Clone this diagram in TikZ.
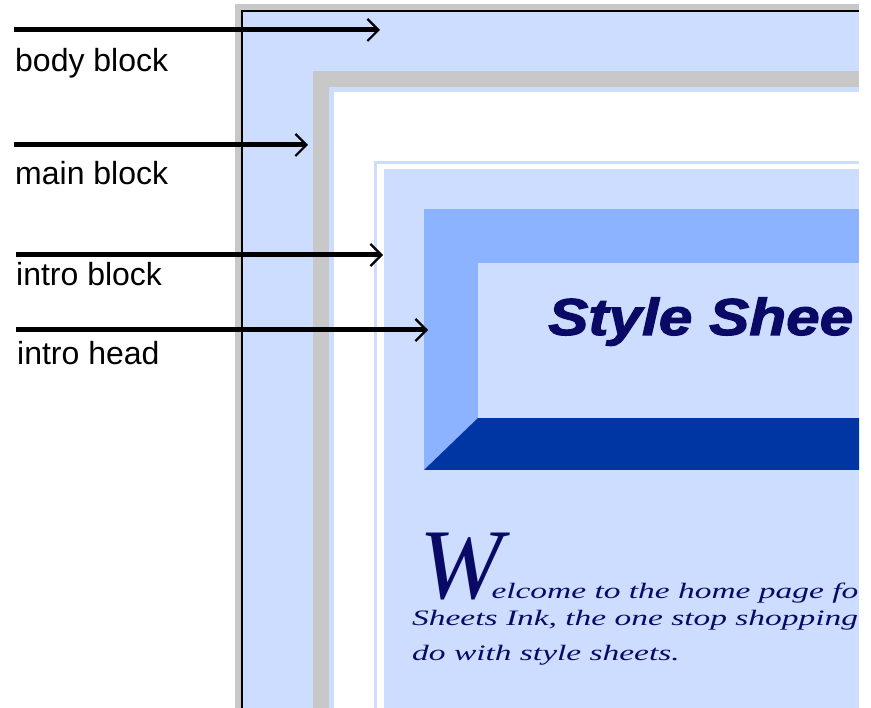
\documentclass[tikz,border=0pt]{standalone}
\usepackage{fontspec}
\usetikzlibrary{arrows.meta}
\setmainfont{Liberation Serif}
\newfontfamily\labelfont{Liberation Sans}
\newfontfamily\titlefont[BoldItalicFeatures={FakeBold=2}]{Liberation Sans}
\definecolor{lightblue}{HTML}{CCDDFF}
\definecolor{framegray}{HTML}{C8C8C8}
\definecolor{medblue}{HTML}{8CB3FF}
\definecolor{darkblue}{HTML}{0036A3}
\definecolor{navy}{HTML}{0A0A66}
\tikzset{
  pointer/.style={line width=5pt, -{Straight Barb[length=11pt,width=22pt,line width=2.2pt]}},
  label/.style={anchor=base west, inner sep=0pt, font=\labelfont\fontsize{32}{38}\selectfont},
  bodytext/.style={anchor=base west, inner sep=0pt, text=navy, text height=15pt, text depth=4pt},
}
\begin{document}
\begin{tikzpicture}[x=1pt,y=-1pt]
\useasboundingbox (0,0) rectangle (871,708);
\fill[white] (0,0) rectangle (871,708);
\begin{scope}
\clip (0,0) rectangle (859,708);
% body block
\fill[framegray] (235,4) rectangle (859,708);
\fill[black] (241,10) rectangle (859,708);
\fill[lightblue] (243,12) rectangle (859,708);
% main block
\fill[framegray] (313,71) rectangle (859,708);
\fill[lightblue] (329,87) rectangle (859,708);
\fill[white] (334,92) rectangle (859,708);
% intro block
\fill[lightblue] (374,161) rectangle (859,708);
\fill[white] (377,164) rectangle (859,708);
\fill[lightblue] (384,169) rectangle (859,708);
% intro head
\fill[medblue] (424,209) rectangle (859,470);
\fill[darkblue] (424,470) -- (478,418) -- (859,418) -- (859,470) -- cycle;
\fill[lightblue] (478,263) rectangle (859,418);
\node[anchor=base west, inner sep=0pt, text=navy] (title) at (548,335) {\titlefont\fontsize{52}{60}\selectfont\bfseries\itshape\scalebox{1.16}[1]{Style Shee}};
\node[anchor=base west, inner sep=0pt, text=navy, text depth=4pt] (line1) at (419,598) {\fontsize{100}{100}\selectfont\itshape W\kern-11pt\fontsize{22}{26}\selectfont\scalebox{1.52}[1]{elcome to the home page fo}};
\node[bodytext] (line2) at (412,626) {\fontsize{22}{26}\selectfont\itshape\scalebox{1.52}[1]{Sheets Ink, the one stop shopping}};
\node[bodytext] (line3) at (412,660) {\fontsize{22}{26}\selectfont\itshape\scalebox{1.52}[1]{do with style sheets.}};
\end{scope}
% labels
\node[label] (lbody) at (15,72) {body block};
\node[label] (lmain) at (15,185) {main block};
\node[label] (lintro) at (16,286) {intro block};
\node[label] (lhead) at (17,365) {intro head};
% arrow ends
\coordinate (fbody) at (14,30);
\coordinate (tbody) at (380,30);
\coordinate (fmain) at (14,145);
\coordinate (tmain) at (308,145);
\coordinate (fintro) at (16,255);
\coordinate (tintro) at (383,255);
\coordinate (fhead) at (16,330);
\coordinate (thead) at (428,330);
\draw[pointer] (fbody) -- (tbody);
\draw[pointer] (fmain) -- (tmain);
\draw[pointer] (fintro) -- (tintro);
\draw[pointer] (fhead) -- (thead);
\end{tikzpicture}
\end{document}
